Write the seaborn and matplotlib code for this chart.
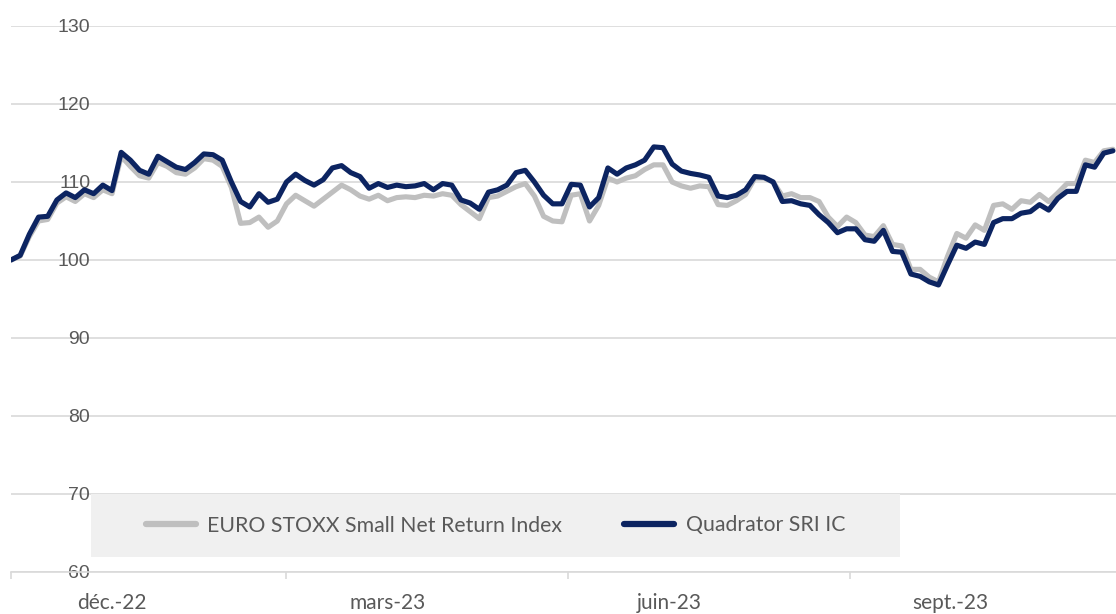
import pandas as pd
import seaborn as sns
import matplotlib.pyplot as plt
from matplotlib.patches import Rectangle

# valeurs, un point tous les 3 jours depuis le 1er déc. 2022
day_offsets = list(range(0, 361, 3))

quadrator = [
    100.0, 100.6, 103.3, 105.5, 105.6, 107.7, 108.6, 108.0, 109.0, 108.5,
    109.6, 108.9, 113.8, 112.8, 111.5, 111.0, 113.3, 112.6, 111.9, 111.6,
    112.5, 113.6, 113.5, 112.8, 110.0, 107.5, 106.8, 108.5, 107.4, 107.8,
    110.0, 111.0, 110.2, 109.6, 110.3, 111.8, 112.1, 111.2, 110.7, 109.2,
    109.8, 109.3, 109.6, 109.4, 109.5, 109.8, 109.0, 109.8, 109.6, 107.7,
    107.3, 106.5, 108.7, 109.0, 109.6, 111.2, 111.5, 110.0, 108.3, 107.2,
    107.2, 109.7, 109.6, 106.8, 108.0, 111.8, 111.0, 111.8, 112.2, 112.8,
    114.5, 114.4, 112.3, 111.4, 111.1, 110.9, 110.6, 108.2, 108.0, 108.3,
    109.0, 110.7, 110.6, 110.0, 107.5, 107.6, 107.2, 107.0, 105.8, 104.8,
    103.5, 104.0, 104.0, 102.6, 102.4, 103.8, 101.1, 101.0, 98.2, 97.9,
    97.2, 96.8, 99.4, 101.9, 101.5, 102.3, 102.0, 104.8, 105.3, 105.3,
    106.0, 106.2, 107.1, 106.4, 107.9, 108.8, 108.8, 112.2, 111.9, 113.7,
    114.0,
]

euro_stoxx_small = [
    100.0, 100.5, 103.0, 105.0, 105.2, 107.3, 108.1, 107.5, 108.5, 108.0,
    109.0, 108.5, 113.3, 112.0, 110.8, 110.5, 112.5, 112.0, 111.2, 111.0,
    111.8, 113.0, 112.8, 112.0, 109.3, 104.7, 104.8, 105.5, 104.2, 105.0,
    107.2, 108.3, 107.6, 106.9, 107.8, 108.7, 109.6, 109.0, 108.2, 107.8,
    108.3, 107.6, 108.0, 108.1, 108.0, 108.3, 108.2, 108.5, 108.3, 107.1,
    106.2, 105.3, 108.0, 108.2, 108.8, 109.4, 109.8, 108.2, 105.6, 105.0,
    104.9, 108.3, 108.5, 105.0, 107.0, 110.5, 110.0, 110.5, 110.8, 111.6,
    112.2, 112.2, 110.0, 109.5, 109.2, 109.5, 109.4, 107.1, 107.0, 107.6,
    108.4, 110.5, 110.5, 110.0, 108.2, 108.5, 108.0, 108.0, 107.5, 105.5,
    104.3, 105.5, 104.8, 103.2, 103.0, 104.4, 102.0, 101.8, 98.8, 98.8,
    97.8, 97.2, 100.5, 103.4, 102.8, 104.5, 103.8, 107.0, 107.2, 106.5,
    107.6, 107.4, 108.4, 107.5, 108.6, 109.8, 109.8, 112.8, 112.5, 114.0,
    114.2,
]

series_names = ['EURO STOXX Small Net Return Index', 'Quadrator SRI IC']
series_colors = ['#bfbfbf', '#0c2461']
tick_months = ['2022-12-01', '2023-03-01', '2023-06-01', '2023-09-01']
tick_labels = ['déc.-22', 'mars-23', 'juin-23', 'sept.-23']

start = pd.Timestamp('2022-12-01')
dates = start + pd.to_timedelta(day_offsets, unit='D')
df = pd.DataFrame({'date': dates,
                   series_names[0]: euro_stoxx_small,
                   series_names[1]: quadrator})

sns.set_style('white')
plt.rcParams['font.family'] = ['Lato', 'DejaVu Sans']

fig = plt.figure(figsize=(11.16, 6.14), dpi=100)
ax = fig.add_axes([11 / 1116, 42 / 614, 1105 / 1116, 546 / 614])

for name, color in zip(series_names, series_colors):
    sns.lineplot(data=df, x='date', y=name, color=color, linewidth=3.7,
                 label=name, ax=ax, legend=False)

ax.set_ylim(60, 130)
ax.set_yticks(range(60, 131, 10))
ax.set_xlim(dates[0], dates[-1] + pd.Timedelta(days=1))
ax.grid(axis='y', color='#d9d9d9', linewidth=1.2)
ax.set_axisbelow(True)
for side in ['left', 'right', 'top']:
    ax.spines[side].set_visible(False)
ax.spines['bottom'].set_color('#d9d9d9')
ax.spines['bottom'].set_linewidth(1.2)

# graduations : traits aux débuts de trimestre, libellés décalés
ticks = pd.to_datetime(tick_months)
ax.set_xticks(ticks)
ax.set_xticklabels([''] * len(ticks))
ax.set_xticks(ticks + pd.Timedelta(days=33), minor=True)
ax.set_xticklabels(tick_labels, minor=True)
ax.tick_params(axis='x', which='major', length=5, width=1.2, color='#d9d9d9',
               bottom=True)
ax.tick_params(axis='x', which='minor', length=0, pad=15, labelsize=15,
               labelcolor='#595959', bottom=True)
ax.tick_params(axis='y', length=0, pad=-57, labelsize=14, labelcolor='#595959')
for lbl in ax.get_yticklabels():
    lbl.set_fontfamily(['Liberation Sans', 'DejaVu Sans'])
ax.set_xlabel('')
ax.set_ylabel('')

# cadre de légende gris
box = Rectangle((80 / 1105, 15 / 546), 809 / 1105, 63 / 546, transform=ax.transAxes,
                facecolor='#f0f0f0', edgecolor='none', zorder=3)
ax.add_patch(box)
leg = ax.legend(loc='center', bbox_to_anchor=(80 / 1105 + 809 / 2210, 15 / 546 + 63 / 1092),
                ncol=2, frameon=False, fontsize=15.3, handlelength=2.35,
                handletextpad=0.56, columnspacing=2.9)
leg.set_zorder(4)
for t in leg.get_texts():
    t.set_color('#595959')
for h in leg.get_lines():
    h.set_linewidth(4.5)

fig.savefig('out.png', dpi=100)
